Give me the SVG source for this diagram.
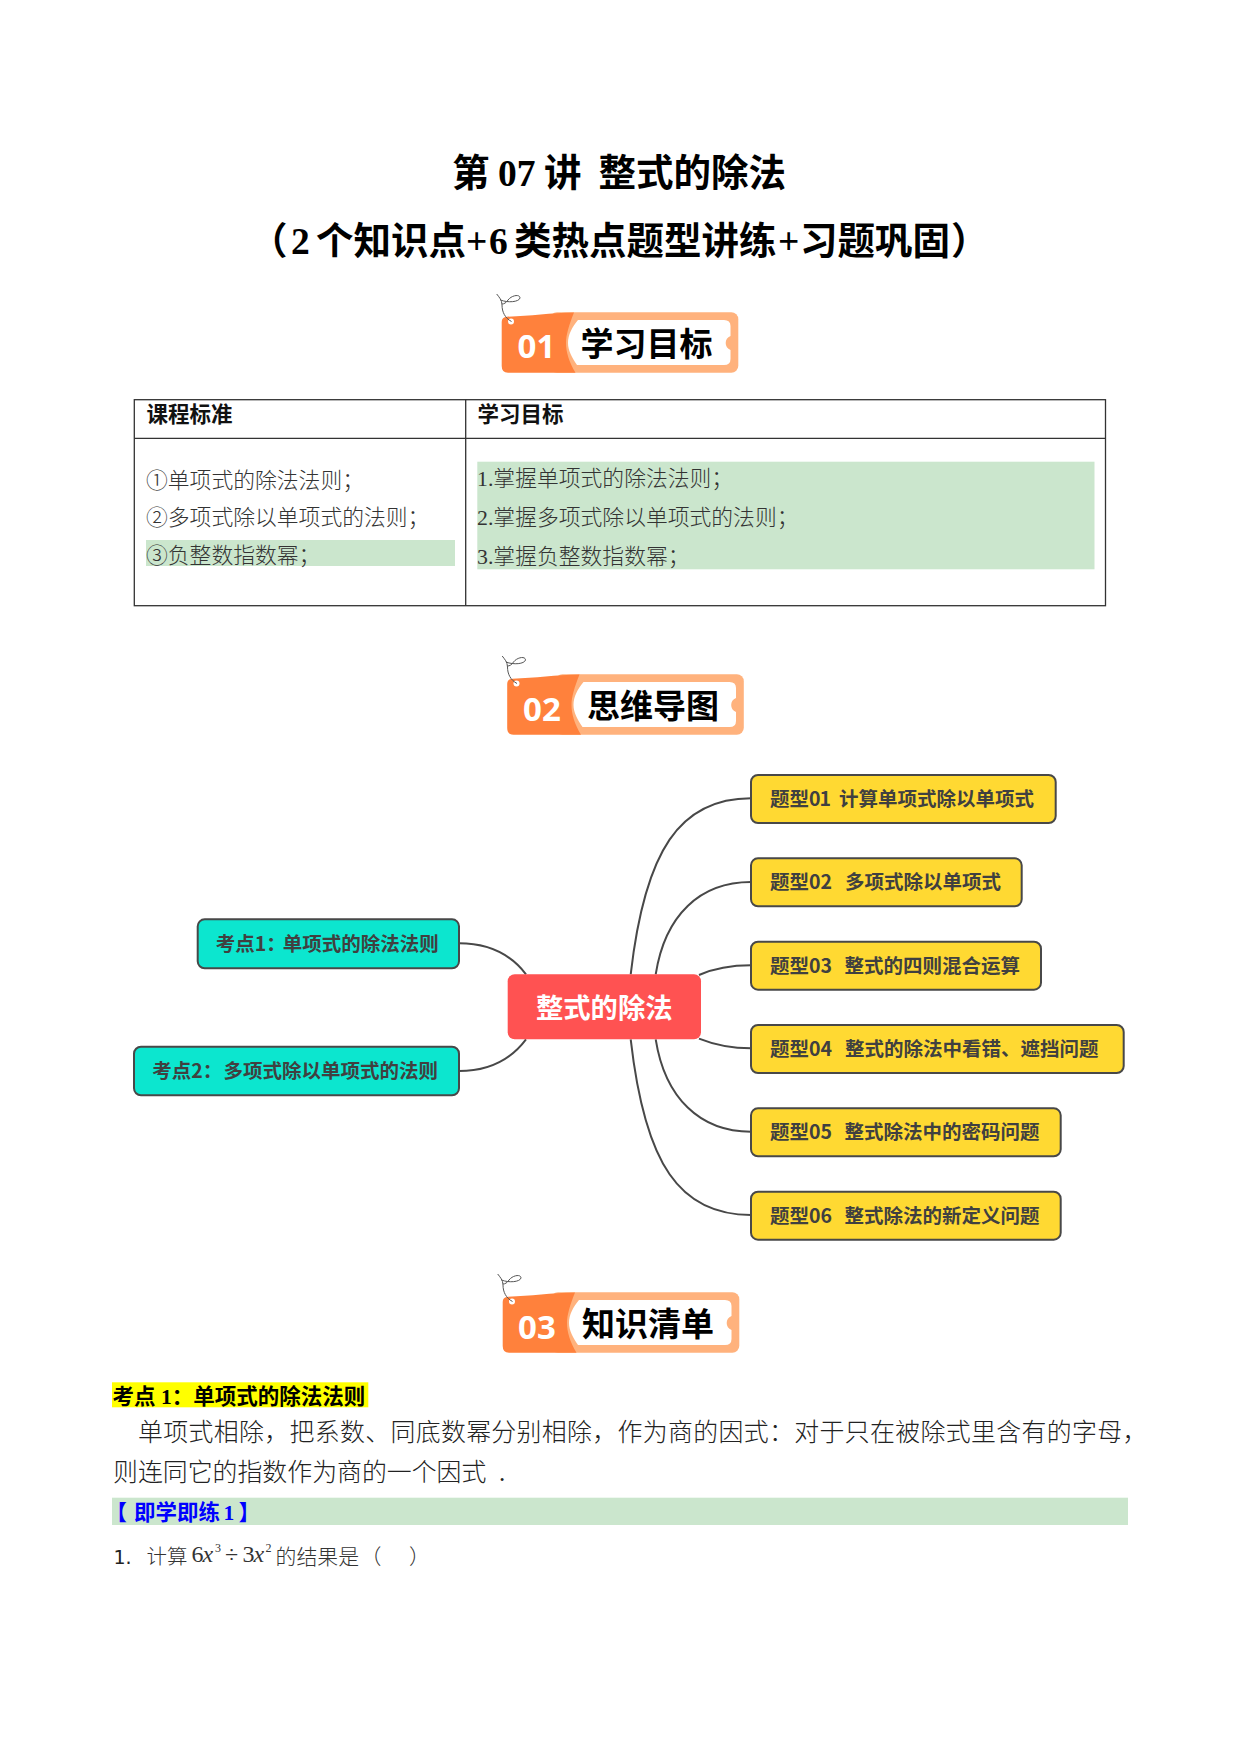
<svg xmlns="http://www.w3.org/2000/svg" xmlns:xlink="http://www.w3.org/1999/xlink" width="1241" height="1754" viewBox="0 0 1241 1754">
<style>
text{font-family:"Liberation Serif","Noto Sans CJK SC",serif;white-space:pre}
.title{font-size:37.500px;font-weight:700;fill:#000}
.th{font-size:21.500px;font-weight:700;fill:#111}
.td{font-size:21.800px;font-weight:300;fill:#333}
.para{font-size:24.900px;font-weight:300;fill:#222}
.green{fill:#cbe6cd}
.tagnum{font-family:"Noto Sans","Noto Sans CJK SC",sans-serif;font-size:33px;font-weight:700;fill:#fff}
.tagtxt{font-family:"Noto Sans CJK SC",sans-serif;font-size:33px;font-weight:700;fill:#000}
.mm{font-family:"Noto Sans CJK SC",sans-serif;font-size:19.500px;font-weight:700;fill:#404040}
.box{stroke:#484848;stroke-width:2}
.yellow{fill:#ffd932}
.teal{fill:#0ce6cf}
.conn{fill:none;stroke:#484848;stroke-width:2}
.math{font-size:24px;fill:#333}
.it{font-style:italic}
.sup{font-size:12px;fill:#333}
</style>
<defs>
<symbol id="tag" overflow="visible">
<rect x="550" y="312.300" width="188.300" height="60.400" rx="7" fill="#ffb27d"/>
<path d="M507 316.700C530 316 550 313 574 312.500C569 325 566 335 566 343C566 352 569 362 575.500 372.700H508Q501.700 372.700 501.700 366V322Q501.700 317 507 316.700Z" fill="#ff813c"/>
<path d="M578 320H724Q730.500 320 730.500 326V336A7.500 7.500 0 0 0 730.500 350V359Q730.500 365 724 365H577C572 358 568 350 568 343C568 335 572 327 578 320Z" fill="#fff"/>
<circle cx="511" cy="321.500" r="3" fill="#fff"/>
<path d="M511.500 321.500C505 318 502 312 502 305C502 300 499 297 496.700 294M500.500 300C508 303 519 302 520 298C520 294 512 295 508 300C506 303 504 304 502 304" fill="none" stroke="#555" stroke-width="1"/>
</symbol>
</defs>

<g id="title">
<text class="title" y="186"><tspan x="452">第</tspan><tspan x="498">07</tspan><tspan x="544">讲</tspan><tspan x="598.500">整式的除法</tspan></text>
<text class="title" y="254"><tspan x="250">（</tspan><tspan x="291">2</tspan><tspan x="316">个知识点</tspan><tspan x="466">+</tspan><tspan x="489">6</tspan><tspan x="514">类热点题型讲练</tspan><tspan x="778">+</tspan><tspan x="800">习题巩固</tspan><tspan x="951">）</tspan></text>
</g>

<g id="tag-01">
<use href="#tag" xlink:href="#tag"/>
<text class="tagnum" x="517.500" y="358">01</text>
<text class="tagtxt" x="580.500" y="355.500">学习目标</text>
</g>

<g id="objectives-table">
<rect class="green" x="146" y="540" width="309" height="26"/>
<rect class="green" x="477.300" y="461.700" width="617.200" height="107.600"/>
<rect x="134.300" y="399.700" width="971.200" height="206" fill="none" stroke="#333" stroke-width="1.300"/>
<path d="M134.300 438.300H1105.500M465.700 399.700V605.700" fill="none" stroke="#333" stroke-width="1.300"/>
<text class="th" x="146.500" y="422">课程标准</text>
<text class="th" x="477.500" y="422">学习目标</text>
<text class="td" x="146" y="488">①单项式的除法法则；</text>
<text class="td" x="146" y="525">②多项式除以单项式的法则；</text>
<text class="td" x="146" y="563">③负整数指数幂；</text>
<text class="td" x="477" y="486">1.掌握单项式的除法法则；</text>
<text class="td" x="477" y="525">2.掌握多项式除以单项式的法则；</text>
<text class="td" x="477" y="564">3.掌握负整数指数幂；</text>
</g>

<g id="tag-02">
<use href="#tag" xlink:href="#tag" x="5.500" y="362"/>
<text class="tagnum" x="523" y="720.500">02</text>
<text class="tagtxt" x="587" y="717.500">思维导图</text>
</g>

<g id="connectors">
<path class="conn" d="M459 943.300C490 943.300 512 956 526 974.300"/>
<path class="conn" d="M459 1071C490 1071 512 1058 526 1039.300"/>
<path class="conn" d="M630.700 974.300C645 850 680 798.300 751 798.300"/>
<path class="conn" d="M655.700 974.300C665 915 700 882 751 882"/>
<path class="conn" d="M699 975C715 968 730 965.300 751 965.300"/>
<path class="conn" d="M699 1038.600C715 1045 730 1048.300 751 1048.300"/>
<path class="conn" d="M655.700 1039.300C665 1098 700 1131.700 751 1131.700"/>
<path class="conn" d="M630.700 1039.300C645 1165 680 1215 751 1215"/>
</g>

<g id="node-root">
<rect x="507.700" y="974.300" width="193.300" height="65" rx="7" fill="#ff5252"/>
<text x="536" y="1017.500" style="font-family:'Noto Sans CJK SC',sans-serif;font-size:27.300px;font-weight:700;fill:#fff">整式的除法</text>
</g>
<g id="node-k1">
<rect class="box teal" x="197.700" y="919.300" width="261.300" height="49" rx="7"/>
<text class="mm" y="951"><tspan x="215.700">考点1：</tspan><tspan x="282.700">单项式的除法法则</tspan></text>
</g>
<g id="node-k2">
<rect class="box teal" x="134" y="1046.700" width="325" height="48.600" rx="7"/>
<text class="mm" y="1078"><tspan x="152.300">考点2：</tspan><tspan x="223.500">多项式除以单项式的法则</tspan></text>
</g>
<g id="node-t1">
<rect class="box yellow" x="751" y="775" width="304.700" height="48" rx="7"/>
<text class="mm" y="806"><tspan x="770">题型0</tspan><tspan dx="-1">1</tspan><tspan x="839">计算单项式除以单项式</tspan></text>
</g>
<g id="node-t2">
<rect class="box yellow" x="751" y="858.300" width="270.700" height="48" rx="7"/>
<text class="mm" y="889.300"><tspan x="770">题型02</tspan><tspan x="845">多项式除以单项式</tspan></text>
</g>
<g id="node-t3">
<rect class="box yellow" x="751" y="941.700" width="290" height="48" rx="7"/>
<text class="mm" y="972.700"><tspan x="770">题型03</tspan><tspan x="844.500">整式的四则混合运算</tspan></text>
</g>
<g id="node-t4">
<rect class="box yellow" x="751" y="1025" width="372.700" height="48" rx="7"/>
<text class="mm" y="1056"><tspan x="770">题型04</tspan><tspan x="845">整式的除法中看错、遮挡问题</tspan></text>
</g>
<g id="node-t5">
<rect class="box yellow" x="751" y="1108.300" width="309.700" height="48" rx="7"/>
<text class="mm" y="1139.300"><tspan x="770">题型05</tspan><tspan x="844.500">整式除法中的密码问题</tspan></text>
</g>
<g id="node-t6">
<rect class="box yellow" x="751" y="1191.700" width="309.700" height="48" rx="7"/>
<text class="mm" y="1222.700"><tspan x="770">题型06</tspan><tspan x="844.500">整式除法的新定义问题</tspan></text>
</g>

<g id="tag-03">
<use href="#tag" xlink:href="#tag" x="1" y="980"/>
<text class="tagnum" x="518" y="1338.500">03</text>
<text class="tagtxt" x="582" y="1335.500">知识清单</text>
</g>

<g id="content">
<rect x="112" y="1382.300" width="256.300" height="25" fill="#ffff00"/>
<text class="th" y="1404" style="fill:#000"><tspan x="112.500">考点 1：单项式的除法法则</tspan></text>
<text class="para" x="138" y="1441" style="letter-spacing:.35px">单项式相除，把系数、同底数幂分别相除，作为商的因式：对于只在被除式里含有的字母，</text>
<text class="para" x="113" y="1481">则连同它的指数作为商的一个因式</text>
<text class="para" x="499" y="1481">.</text>
<rect class="green" x="112" y="1497.700" width="1016" height="27.300"/>
<text class="th" y="1520" style="fill:#0000ff"><tspan x="105.500">【</tspan><tspan x="134">即学即练</tspan><tspan x="223.500">1</tspan><tspan x="238.500">】</tspan></text>
<text x="113.500" y="1564" style="font-family:'DejaVu Sans',sans-serif;font-size:19px;fill:#222">1.</text>
<text class="td" x="146.500" y="1564" style="font-size:20.500px">计算</text>
<text class="math" x="191.500" y="1562">6</text>
<text class="math it" x="202.500" y="1562">x</text>
<text class="sup" x="215" y="1552">3</text>
<text class="math" x="225" y="1562">÷</text>
<text class="math" x="242.500" y="1562">3</text>
<text class="math it" x="253.500" y="1562">x</text>
<text class="sup" x="265.500" y="1552">2</text>
<text class="td" x="275.500" y="1564" style="font-size:20.900px">的结果是</text>
<text class="td" x="360.500" y="1564" style="font-size:20.900px">（</text>
<text class="td" x="409" y="1564" style="font-size:20.900px">）</text>
</g>
</svg>
